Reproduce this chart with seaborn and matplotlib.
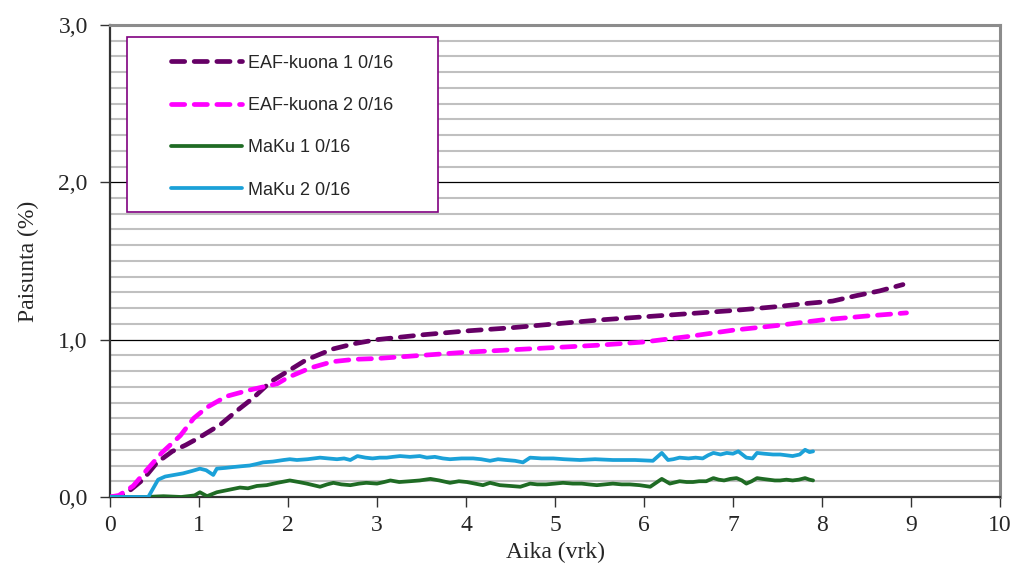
import numpy as np
import pandas as pd
import matplotlib
matplotlib.use("Agg")
import matplotlib.pyplot as plt
import seaborn as sns
from matplotlib.ticker import MultipleLocator, FuncFormatter
from matplotlib.patches import Rectangle

# ---------------- data ----------------
eaf1_x = [0.0, 0.1, 0.22, 0.37, 0.53, 0.70, 0.85, 1.01, 1.24, 1.43, 1.61, 1.80, 2.0, 2.2,
          2.5, 2.75, 3.0, 3.5, 4.0, 4.5, 5.0, 5.5, 6.0, 6.5, 7.0, 7.5, 7.83, 8.12, 8.39, 8.65, 8.91]
eaf1_y = [0.0, 0.0, 0.04, 0.11, 0.22, 0.29, 0.33, 0.38, 0.46, 0.55, 0.63, 0.73, 0.80, 0.87,
          0.94, 0.975, 1.0, 1.03, 1.055, 1.075, 1.10, 1.125, 1.145, 1.165, 1.185, 1.21, 1.23, 1.245, 1.28, 1.31, 1.35]

eaf2_x = [0.0, 0.1, 0.26, 0.41, 0.58, 0.79, 0.94, 1.09, 1.31, 1.57, 1.88, 2.0, 2.25, 2.5, 2.75,
          3.0, 3.5, 4.0, 4.5, 5.0, 5.5, 6.0, 6.5, 7.0, 7.5, 8.0, 8.5, 8.95]
eaf2_y = [0.0, 0.01, 0.07, 0.17, 0.28, 0.39, 0.50, 0.57, 0.64, 0.68, 0.72, 0.76, 0.82, 0.86, 0.875,
          0.88, 0.90, 0.92, 0.935, 0.95, 0.965, 0.985, 1.02, 1.06, 1.09, 1.125, 1.15, 1.17]

maku1_x = [0.0, 0.40, 0.60, 0.80, 0.95, 1.01, 1.09, 1.20, 1.33, 1.46, 1.55, 1.65, 1.76, 1.88, 2.02,
           2.12, 2.21, 2.36, 2.44, 2.51, 2.60, 2.70, 2.80, 2.88, 3.0, 3.08, 3.15, 3.25, 3.37, 3.48,
           3.60, 3.70, 3.82, 3.92, 4.01, 4.10, 4.19, 4.27, 4.38, 4.50, 4.61, 4.72, 4.80, 4.9,
           5.0, 5.09, 5.2, 5.3, 5.38, 5.47, 5.56, 5.65, 5.75, 5.84, 5.95, 6.07, 6.2, 6.29, 6.4,
           6.48, 6.55, 6.62, 6.7, 6.78, 6.84, 6.9, 6.97, 7.04, 7.1, 7.15, 7.21, 7.27, 7.33, 7.4,
           7.47, 7.53, 7.6, 7.67, 7.74, 7.81, 7.86, 7.9]
maku1_y = [0.0, 0.0, 0.005, 0.0, 0.01, 0.03, 0.005, 0.03, 0.045, 0.06, 0.055, 0.07, 0.075, 0.09, 0.105,
           0.095, 0.085, 0.065, 0.08, 0.09, 0.08, 0.075, 0.085, 0.09, 0.085, 0.095, 0.105, 0.095, 0.10, 0.105,
           0.115, 0.105, 0.09, 0.10, 0.095, 0.085, 0.075, 0.09, 0.075, 0.07, 0.065, 0.085, 0.08, 0.08,
           0.085, 0.09, 0.085, 0.085, 0.08, 0.075, 0.08, 0.085, 0.08, 0.08, 0.075, 0.065, 0.115, 0.085, 0.10,
           0.095, 0.095, 0.10, 0.10, 0.12, 0.11, 0.105, 0.115, 0.12, 0.105, 0.085, 0.10, 0.12, 0.115, 0.11,
           0.105, 0.105, 0.11, 0.105, 0.11, 0.12, 0.11, 0.105]

maku2_x = [0.0, 0.43, 0.49, 0.54, 0.62, 0.72, 0.82, 0.92, 1.01, 1.08, 1.16, 1.20, 1.30, 1.38, 1.47,
           1.57, 1.65, 1.72, 1.83, 1.95, 2.02, 2.10, 2.22, 2.36, 2.45, 2.55, 2.63, 2.70, 2.78, 2.87,
           2.95, 3.03, 3.11, 3.18, 3.26, 3.37, 3.48, 3.56, 3.65, 3.74, 3.82, 3.95, 4.08, 4.17, 4.27,
           4.36, 4.45, 4.55, 4.64, 4.72, 4.85, 4.98, 5.1, 5.28, 5.45, 5.65, 5.9, 6.1, 6.2, 6.27,
           6.33, 6.4, 6.5, 6.58, 6.66, 6.72, 6.78, 6.86, 6.93, 7.0, 7.06, 7.15, 7.22, 7.27, 7.35,
           7.45, 7.53, 7.6, 7.67, 7.75, 7.81, 7.86, 7.9]
maku2_y = [0.0, 0.0, 0.06, 0.11, 0.13, 0.14, 0.15, 0.165, 0.18, 0.17, 0.14, 0.18, 0.185, 0.19, 0.195,
           0.20, 0.21, 0.22, 0.225, 0.235, 0.24, 0.235, 0.24, 0.25, 0.245, 0.24, 0.245, 0.235, 0.26, 0.25,
           0.245, 0.25, 0.25, 0.255, 0.26, 0.255, 0.26, 0.25, 0.255, 0.245, 0.24, 0.245, 0.245, 0.24, 0.23,
           0.24, 0.235, 0.23, 0.22, 0.25, 0.245, 0.245, 0.24, 0.235, 0.24, 0.235, 0.235, 0.23, 0.28, 0.235,
           0.24, 0.25, 0.245, 0.25, 0.245, 0.265, 0.28, 0.27, 0.28, 0.275, 0.29, 0.25, 0.245, 0.28, 0.275,
           0.27, 0.27, 0.265, 0.26, 0.27, 0.30, 0.285, 0.29]

labels = ["EAF-kuona 1 0/16", "EAF-kuona 2 0/16", "MaKu 1 0/16", "MaKu 2 0/16"]
colors = ["#660066", "#FF00FF", "#1F6B24", "#1BA1D8"]
x_label = "Aika (vrk)"
y_label = "Paisunta (%)"

# ---------------- plotting ----------------
sns.set_style("white")
plt.rcParams["font.family"] = ["Liberation Serif", "DejaVu Serif"]

fig = plt.figure(figsize=(10.15, 5.67), dpi=100)
ax = fig.add_axes([0.1084, 0.1235, 0.8768, 0.8325])

series = [(eaf1_x, eaf1_y), (eaf2_x, eaf2_y), (maku1_x, maku1_y), (maku2_x, maku2_y)]
styles = [dict(lw=3.4, dashes=(2.8, 2.0)),
          dict(lw=3.4, dashes=(2.8, 2.0)),
          dict(lw=2.7),
          dict(lw=2.7)]
handles = []
for (xs, ys), lab, col, st in zip(series, labels, colors, styles):
    df = pd.DataFrame({"x": xs, "y": ys})
    sns.lineplot(data=df, x="x", y="y", ax=ax, color=col, label=lab, legend=False,
                 zorder=3, lw=st["lw"])
    ln = ax.lines[-1]
    if "dashes" in st:
        ln.set_dashes(st["dashes"])
        ln.set_dash_capstyle("round")
    else:
        ln.set_solid_capstyle("round")
        ln.set_solid_joinstyle("round")
    handles.append(ln)

ax.set_xlim(0, 10)
ax.set_ylim(0, 3)
ax.xaxis.set_major_locator(MultipleLocator(1))
ax.yaxis.set_major_locator(MultipleLocator(1))
ax.yaxis.set_minor_locator(MultipleLocator(0.1))
ax.yaxis.set_major_formatter(FuncFormatter(lambda v, p: f"{v:.1f}".replace(".", ",")))

ax.set_axisbelow(True)
ax.grid(which="minor", axis="y", color="#C0C0C0", lw=1.5)
ax.grid(which="major", axis="y", color="black", lw=0.9)
ax.grid(which="major", axis="x", visible=False)

ax.tick_params(axis="both", which="major", direction="out", length=7, width=1,
               color="#333333", labelsize=17, left=True, bottom=True)
ax.tick_params(axis="y", which="major", pad=9)
ax.tick_params(axis="x", which="major", pad=6)
ax.tick_params(axis="y", which="minor", length=0)

for s in ["left", "bottom"]:
    ax.spines[s].set_color("#333333")
    ax.spines[s].set_linewidth(1.6)
for s in ["top", "right"]:
    ax.spines[s].set_color("#8C8C8C")
    ax.spines[s].set_linewidth(2.2)

ax.set_xlabel(x_label, fontsize=17, labelpad=4)
ax.set_ylabel(y_label, fontsize=17, labelpad=14)

# legend box
ax.add_patch(Rectangle((0.019, 0.604), 0.349, 0.371, transform=ax.transAxes,
                       facecolor="white", edgecolor="#800080", lw=1.2, zorder=4))
leg = ax.legend(handles=handles, labels=labels, loc="upper left",
                bbox_to_anchor=(0.069, 0.937), frameon=False,
                prop={"family": ["Liberation Sans", "DejaVu Sans"], "size": 13},
                handlelength=3.9, handletextpad=0.35, labelspacing=1.4,
                borderaxespad=0, borderpad=0)
leg.set_zorder(5)

fig.savefig("out.png", dpi=100)
